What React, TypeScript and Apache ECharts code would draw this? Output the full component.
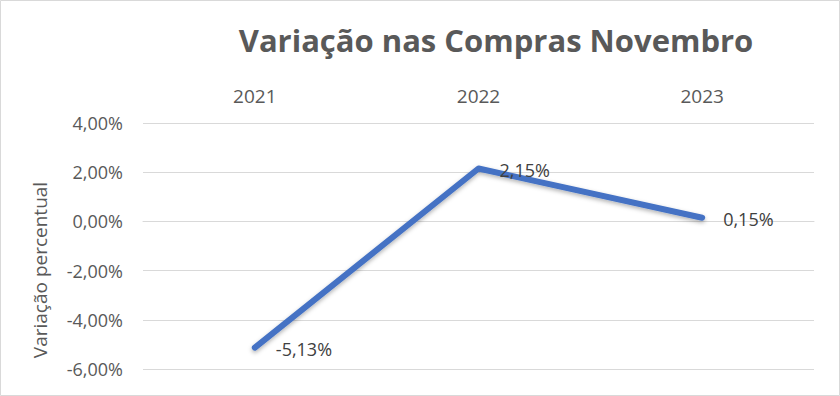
import React, { useEffect, useRef } from "react";
import * as echarts from "echarts";

const categories = ["2021", "2022", "2023"];
const values = [-5.13, 2.15, 0.15];
const yMin = -6;
const yMax = 4;
const yInterval = 2;
const titleText = "Variação nas Compras Novembro";
const yAxisName = "Variação percentual";

const fmt = (v: number) => v.toFixed(2).replace(".", ",") + "%";

export default function App() {
  const ref = useRef<HTMLDivElement>(null);
  useEffect(() => {
    if (!ref.current) return;
    const chart = echarts.init(ref.current, null, { renderer: "svg" });
    const font = "Open Sans";
    chart.setOption({
      animation: false,
      backgroundColor: "#ffffff",
      title: {
        text: titleText,
        left: 491,
        top: 19,
        textAlign: "center",
        textStyle: { fontFamily: font, fontSize: 31, fontWeight: "bold", color: "#595959" },
      },
      grid: { left: 143, right: 26, top: 123, bottom: 27, containLabel: false },
      xAxis: {
        type: "category",
        data: categories,
        position: "top",
        boundaryGap: true,
        axisLine: { show: true, lineStyle: { color: "#d9d9d9" } },
        axisTick: { show: false },
        axisLabel: { color: "#595959", fontFamily: font, fontSize: 19, margin: 18 },
      },
      yAxis: {
        type: "value",
        min: yMin,
        max: yMax,
        interval: yInterval,
        axisLine: { show: false },
        axisTick: { show: false },
        splitLine: { lineStyle: { color: "#d9d9d9", width: 1 } },
        axisLabel: { color: "#595959", fontFamily: font, fontSize: 18, margin: 20, formatter: (v: number) => fmt(v) },
      },
      graphic: [
        {
          type: "rect",
          shape: { x: 0.5, y: 0.5, width: 839, height: 395 },
          style: { fill: "none", stroke: "#d9d9d9", lineWidth: 1 },
        },
        {
          type: "text",
          x: 40,
          y: 270,
          rotation: Math.PI / 2,
          style: {
            text: yAxisName,
            fontFamily: font,
            fontSize: 19,
            fill: "#595959",
            align: "center",
            verticalAlign: "middle",
          },
        },
      ],
      series: [
        {
          type: "line",
          data: values,
          symbol: "circle",
          symbolSize: 2,
          showSymbol: true,
          itemStyle: { color: "#4472c4", borderWidth: 0 },
          lineStyle: {
            color: "#4472c4",
            width: 6,
            cap: "round",
            join: "round",
            shadowColor: "rgba(0,0,0,0.3)",
            shadowBlur: 4,
            shadowOffsetY: 2,
          },
          label: {
            show: true,
            position: "right",
            distance: 20,
            offset: [0, 1],
            color: "#404040",
            fontFamily: font,
            fontSize: 18,
            formatter: (p: any) => fmt(p.value),
          },
        },
      ],
    });
    return () => chart.dispose();
  }, []);
  return (
    <div
      ref={ref}
      style={{ position: "fixed", left: 0, top: 0, width: 840, height: 396 }}
    />
  );
}
